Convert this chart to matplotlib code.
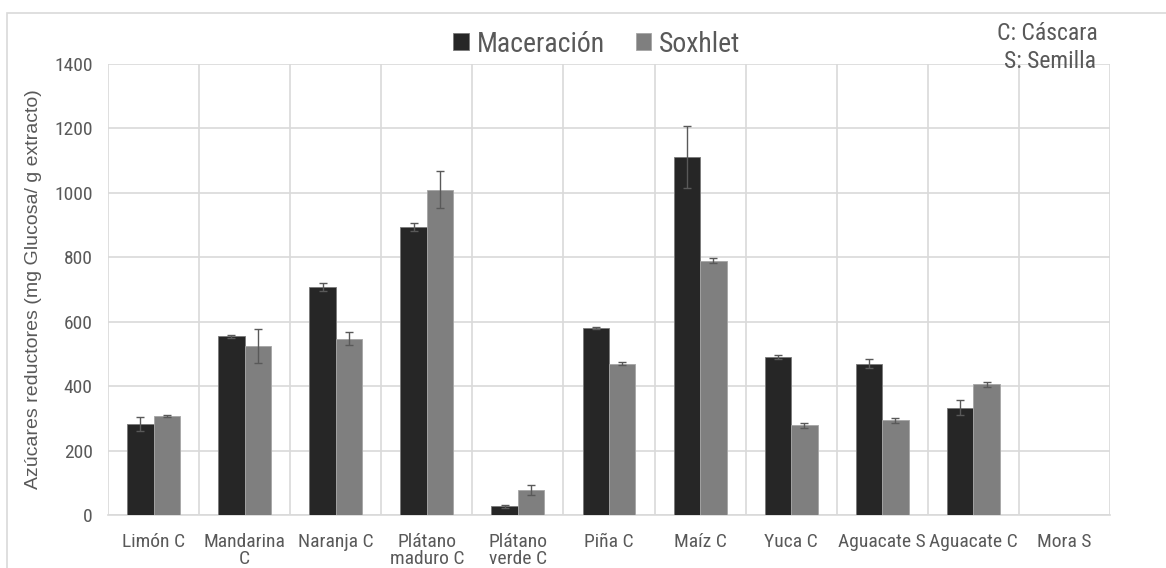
import matplotlib.pyplot as plt
import numpy as np
from matplotlib.patches import Rectangle
from matplotlib import font_manager

categorias = ['Limón C', 'Mandarina\nC', 'Naranja C', 'Plátano\nmaduro C', 'Plátano\nverde C',
              'Piña C', 'Maíz C', 'Yuca C', 'Aguacate S', 'Aguacate C', 'Mora S']
maceracion = [282, 555, 707, 895, 27, 580, 1112, 490, 470, 333, 0]
maceracion_err = [22, 5, 12, 12, 4, 4, 97, 7, 15, 24, 0]
soxhlet = [308, 525, 547, 1010, 78, 470, 790, 278, 294, 406, 0]
soxhlet_err = [3, 53, 20, 57, 15, 5, 8, 7, 7, 8, 0]

names = {f.name for f in font_manager.fontManager.ttflist}
estrecha = 'Liberation Sans'
for cand in ['Liberation Sans Narrow', 'Roboto Condensed', 'Open Sans Condensed']:
    if cand in names:
        estrecha = cand
        break
plt.rcParams['font.family'] = [estrecha, 'DejaVu Sans']

gris_texto = '#595959'
gris_linea = '#d9d9d9'

fig = plt.figure(figsize=(11.66, 5.68), dpi=100)
ax = fig.add_axes([108 / 1166, 53 / 568, 1002 / 1166, 451 / 568])

# marco del area del grafico
fig.patches.append(Rectangle((7 / 1166, -0.1), 1.2, (568 - 13) / 568 + 0.1,
                             transform=fig.transFigure, fill=False,
                             edgecolor=gris_linea, linewidth=1.2))

x = np.arange(len(categorias))
w = 0.29
ax.bar(x - w / 2, maceracion, w, color='#262626', edgecolor='#7a7a7a', linewidth=0.6,
       label='Maceración', zorder=3)
ax.bar(x + w / 2, soxhlet, w, color='#7f7f7f', edgecolor='#a6a6a6', linewidth=0.6,
       label='Soxhlet', zorder=3)

# barras de error solo donde hay dato
for desp, vals, errs in [(-w / 2, maceracion, maceracion_err), (w / 2, soxhlet, soxhlet_err)]:
    idx = [i for i, e in enumerate(errs) if e > 0]
    ax.errorbar(x[idx] + desp, [vals[i] for i in idx], yerr=[errs[i] for i in idx],
                fmt='none', ecolor='#595959', elinewidth=1, capsize=3, capthick=1, zorder=4)

ax.set_xlim(-0.5, len(categorias) - 0.5)
ax.set_ylim(0, 1400)
ax.set_yticks(np.arange(0, 1401, 200))
ax.set_xticks(x)
ax.set_xticklabels(categorias, fontsize=14, color=gris_texto, linespacing=0.95)
ax.set_xticks(np.arange(-0.5, len(categorias)), minor=True)
ax.tick_params(axis='both', which='both', length=0, colors=gris_texto)
ax.tick_params(axis='y', labelsize=14, pad=11)
ax.tick_params(axis='x', pad=13)
ax.grid(axis='y', which='major', color=gris_linea, linewidth=1.2, zorder=0)
ax.grid(axis='x', which='minor', color=gris_linea, linewidth=1.2, zorder=0)
ax.grid(axis='x', which='major', visible=False)
for s in ['top', 'right', 'left']:
    ax.spines[s].set_visible(False)
ax.spines['bottom'].set_color(gris_linea)
ax.spines['bottom'].set_linewidth(1.2)
ax.set_axisbelow(True)

ax.set_ylabel('Azúcares reductores (mg Glucosa/ g extracto)', fontsize=14,
              family=['Liberation Sans', 'DejaVu Sans'], color=gris_texto, labelpad=9)

fig.legend(loc='center', bbox_to_anchor=(597 / 1166, 1 - 44 / 568), ncol=2, frameon=False,
           fontsize=20, labelcolor=gris_texto, handlelength=0.55, handleheight=0.55,
           handletextpad=0.3, columnspacing=1.1)

fig.text(1098 / 1166, 1 - 33 / 568, 'C: Cáscara', ha='right', va='center',
         fontsize=17, color=gris_texto)
fig.text(1096 / 1166, 1 - 62 / 568, 'S: Semilla', ha='right', va='center',
         fontsize=17, color=gris_texto)

fig.savefig('out.png', dpi=100, facecolor='white')
